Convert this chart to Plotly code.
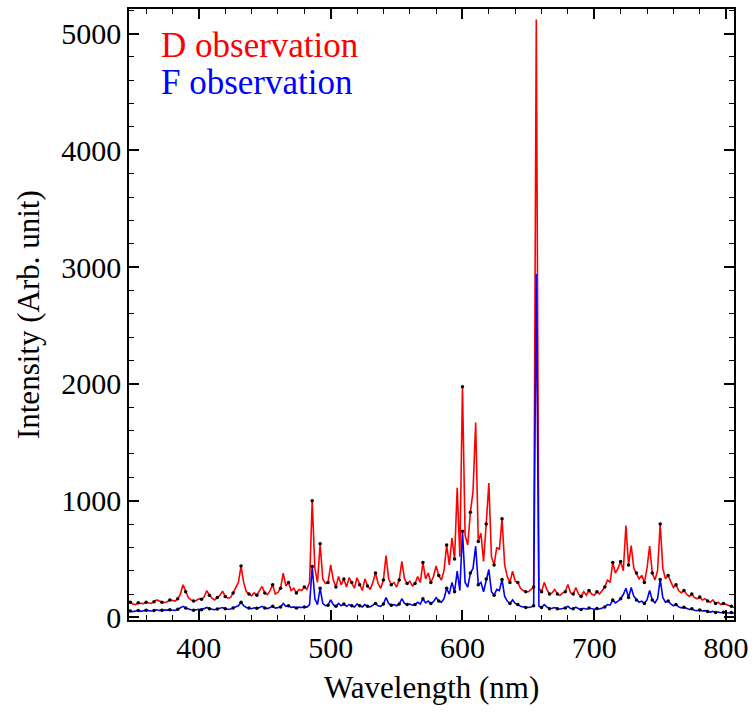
import numpy as np
import plotly.graph_objects as go

# Wavelength grid (nm), 2 nm steps
wavelength = list(range(348, 808, 2))

# D observation intensity (arb. unit)
d_obs = [
    130, 115, 110, 125, 120, 118, 130, 125, 120, 135,   # 348-366
    150, 140, 130, 128, 135, 150, 145, 140, 160, 200,   # 368-386
    280, 220, 170, 150, 140, 145, 160, 155, 175, 230,   # 388-406
    190, 165, 150, 170, 190, 225, 180, 165, 170, 210,   # 408-426
    260, 300, 440, 300, 220, 200, 185, 210, 190, 230,   # 428-446
    265, 210, 195, 230, 280, 200, 215, 250, 380, 270,   # 448-466
    300, 230, 250, 210, 240, 230, 260, 240, 300, 1000,  # 468-486
    420, 300, 630, 330, 290, 300, 450, 320, 260, 350,   # 488-506
    280, 330, 260, 340, 300, 250, 340, 280, 230, 330,   # 508-526
    270, 240, 300, 380, 290, 250, 320, 530, 330, 280,   # 528-546
    300, 260, 320, 480, 330, 290, 310, 270, 290, 350,   # 548-566
    300, 470, 330, 380, 300, 350, 440, 360, 320, 400,   # 568-586
    620, 450, 680, 500, 1110, 520, 1975, 700, 620, 900, # 588-606
    1080, 1670, 650, 720, 480, 800, 1150, 520, 450, 600, # 608-626
    580, 846, 450, 350, 300, 396, 310, 300, 250, 230,   # 628-646
    220, 220, 240, 260, 5120, 250, 220, 300, 240, 200,  # 648-666
    210, 240, 200, 190, 210, 220, 282, 210, 200, 256,   # 668-686
    200, 180, 220, 190, 230, 200, 190, 220, 200, 230,   # 688-706
    260, 320, 300, 470, 380, 420, 480, 400, 786, 450,   # 708-726
    615, 420, 380, 330, 360, 300, 420, 610, 380, 320,   # 728-746
    400, 800, 420, 330, 360, 300, 256, 280, 230, 210,   # 748-766
    230, 200, 180, 200, 170, 160, 175, 150, 160, 140,   # 768-786
    130, 150, 120, 130, 110, 120, 110, 100, 95, 85,     # 788-806
]

# F observation intensity (arb. unit)
f_obs = [
    55, 50, 55, 60, 52, 55, 62, 58, 55, 60,
    65, 60, 62, 58, 60, 65, 62, 60, 70, 80,
    95, 80, 70, 65, 62, 66, 70, 65, 72, 85,
    75, 70, 66, 72, 78, 85, 75, 70, 72, 80,
    90, 100, 130, 100, 85, 80, 75, 82, 78, 85,
    95, 80, 76, 85, 95, 80, 85, 90, 120, 95,
    100, 85, 90, 80, 88, 85, 90, 88, 110, 436,
    160, 110, 250, 120, 100, 105, 150, 110, 95, 120,
    100, 115, 95, 110, 100, 90, 115, 100, 90, 110,
    95, 90, 105, 120, 100, 95, 115, 170, 120, 105,
    110, 100, 115, 160, 120, 110, 115, 105, 110, 130,
    115, 160, 125, 140, 120, 135, 170, 140, 130, 160,
    250, 200, 300, 220, 396, 230, 738, 300, 260, 380,
    420, 610, 280, 300, 220, 330, 410, 220, 190, 240,
    230, 325, 180, 140, 120, 150, 120, 110, 95, 90,
    85, 85, 90, 100, 2940, 95, 85, 110, 90, 75,
    78, 85, 75, 72, 76, 80, 95, 76, 74, 88,
    74, 68, 78, 70, 80, 72, 70, 76, 72, 80,
    90, 110, 105, 150, 125, 140, 160, 196, 250, 170,
    256, 180, 150, 130, 140, 120, 150, 230, 150, 125,
    160, 325, 170, 130, 140, 115, 100, 110, 90, 82,
    88, 75, 68, 74, 62, 58, 64, 55, 58, 50,
    46, 52, 42, 46, 40, 44, 40, 38, 42, 36,
]

assert len(d_obs) == len(wavelength) and len(f_obs) == len(wavelength)

x_ticks = [400, 500, 600, 700, 800]
y_ticks = [0, 1000, 2000, 3000, 4000, 5000]

FONT = "Liberation Serif, 'Times New Roman', Times, serif"
fig = go.Figure()
fig.add_trace(go.Scatter(x=wavelength, y=d_obs, mode="lines",
                         line=dict(color="#ff0000", width=1.6), name="D observation"))
fig.add_trace(go.Scatter(x=wavelength, y=f_obs, mode="lines",
                         line=dict(color="#0000ff", width=1.6), name="F observation"))
# model points (black dots) along both spectra
idx = list(range(0, len(wavelength), 3))
for series in (d_obs, f_obs):
    fig.add_trace(go.Scatter(x=[wavelength[i] for i in idx], y=[series[i] for i in idx],
                             mode="markers", marker=dict(color="black", size=3.5),
                             showlegend=False))

fig.add_annotation(x=0.049, y=0.940, xref="paper", yref="paper", xanchor="left", yanchor="middle",
                   text="D observation", showarrow=False, font=dict(family=FONT, size=35, color="#ff0000"))
fig.add_annotation(x=0.049, y=0.880, xref="paper", yref="paper", xanchor="left", yanchor="middle",
                   text="F observation", showarrow=False, font=dict(family=FONT, size=35, color="#0000ff"))
# axis titles
fig.add_annotation(x=0.5, y=-0.110, xref="paper", yref="paper", xanchor="center", yanchor="middle",
                   text="Wavelength (nm)", showarrow=False, font=dict(family=FONT, size=31, color="black"))
fig.add_annotation(x=-0.166, y=0.5, xref="paper", yref="paper", xanchor="center", yanchor="middle",
                   text="Intensity (Arb. unit)", textangle=-90, showarrow=False,
                   font=dict(family=FONT, size=31, color="black"))

axis_common = dict(showline=True, linecolor="black", linewidth=1.5, mirror="ticks",
                   ticks="inside", ticklen=10, tickwidth=1.5, tickcolor="black",
                   showgrid=False, zeroline=False,
                   tickfont=dict(family=FONT, size=30, color="black"))
fig.update_xaxes(range=[347, 806], tickvals=x_ticks,
                 minor=dict(dtick=20, ticks="inside", ticklen=5, tickwidth=1.2, tickcolor="black"),
                 **axis_common)
fig.update_yaxes(range=[-22, 5210], tickvals=y_ticks,
                 minor=dict(dtick=200, ticks="inside", ticklen=5, tickwidth=1.2, tickcolor="black"),
                 **axis_common)
fig.update_layout(width=756, height=713, margin=dict(l=129, r=16, t=7, b=93),
                  plot_bgcolor="white", paper_bgcolor="white", showlegend=False,
                  font=dict(family=FONT))
fig.write_html("out.html")
